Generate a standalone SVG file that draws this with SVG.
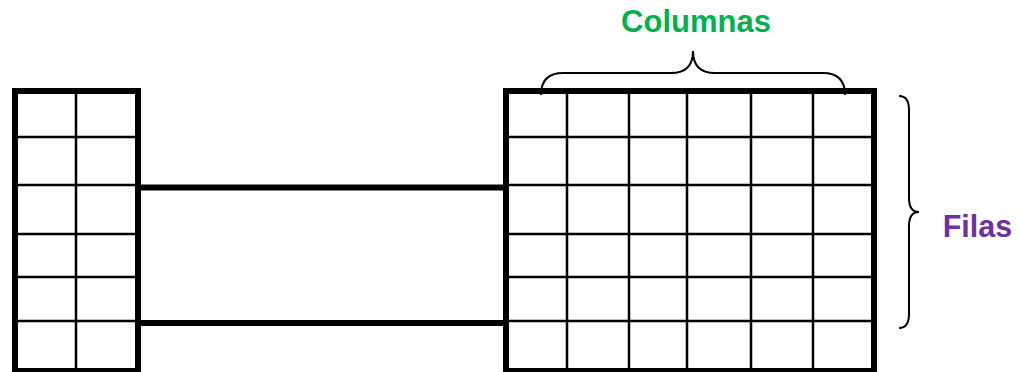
<svg xmlns="http://www.w3.org/2000/svg" width="1020" height="372" viewBox="0 0 1020 372">
<style>
.outer{fill:none;stroke:#000;stroke-width:6}
.grid{stroke:#000;stroke-width:2.5}
.link{stroke:#000;stroke-width:6}
.brace{fill:none;stroke:#000;stroke-width:2}
.lbl{font-family:"Liberation Sans",Arial,sans-serif;font-weight:bold}
</style>
<rect width="1020" height="372" fill="#fff"/>
<g id="connectors">
<line class="link" x1="141" y1="187.5" x2="503" y2="187.5"/>
<line class="link" x1="141" y1="323" x2="503" y2="323"/>
</g>
<g id="left-table">
<g class="grid">
<line x1="76" y1="91" x2="76" y2="371"/>
<line x1="15" y1="137" x2="138" y2="137"/>
<line x1="15" y1="185" x2="138" y2="185"/>
<line x1="15" y1="234" x2="138" y2="234"/>
<line x1="15" y1="277" x2="138" y2="277"/>
<line x1="15" y1="321" x2="138" y2="321"/>
</g>
<rect class="outer" x="15" y="91" width="123" height="280"/>
</g>
<g id="right-table">
<g class="grid">
<line x1="567" y1="91" x2="567" y2="371"/>
<line x1="629" y1="91" x2="629" y2="371"/>
<line x1="687" y1="91" x2="687" y2="371"/>
<line x1="751" y1="91" x2="751" y2="371"/>
<line x1="813" y1="91" x2="813" y2="371"/>
<line x1="506" y1="137" x2="874" y2="137"/>
<line x1="506" y1="185" x2="874" y2="185"/>
<line x1="506" y1="234" x2="874" y2="234"/>
<line x1="506" y1="277" x2="874" y2="277"/>
<line x1="506" y1="321" x2="874" y2="321"/>
</g>
<rect class="outer" x="506" y="91" width="368" height="280"/>
</g>
<g id="columnas">
<path class="brace" d="M541,95 Q541,73 563,73 L671,73 Q693,73 693,51 Q693,73 715,73 L823,73 Q845,73 845,95"/>
<text class="lbl" x="696" y="32" font-size="31" fill="#00B050" text-anchor="middle">Columnas</text>
</g>
<g id="filas">
<path class="brace" d="M899,96 Q909,96 909,110 L909,198 Q909,212 919,212 Q909,212 909,226 L909,314 Q909,328 899,328"/>
<text class="lbl" x="977.5" y="237" font-size="30.5" fill="#7030A0" text-anchor="middle">Filas</text>
</g>
</svg>
